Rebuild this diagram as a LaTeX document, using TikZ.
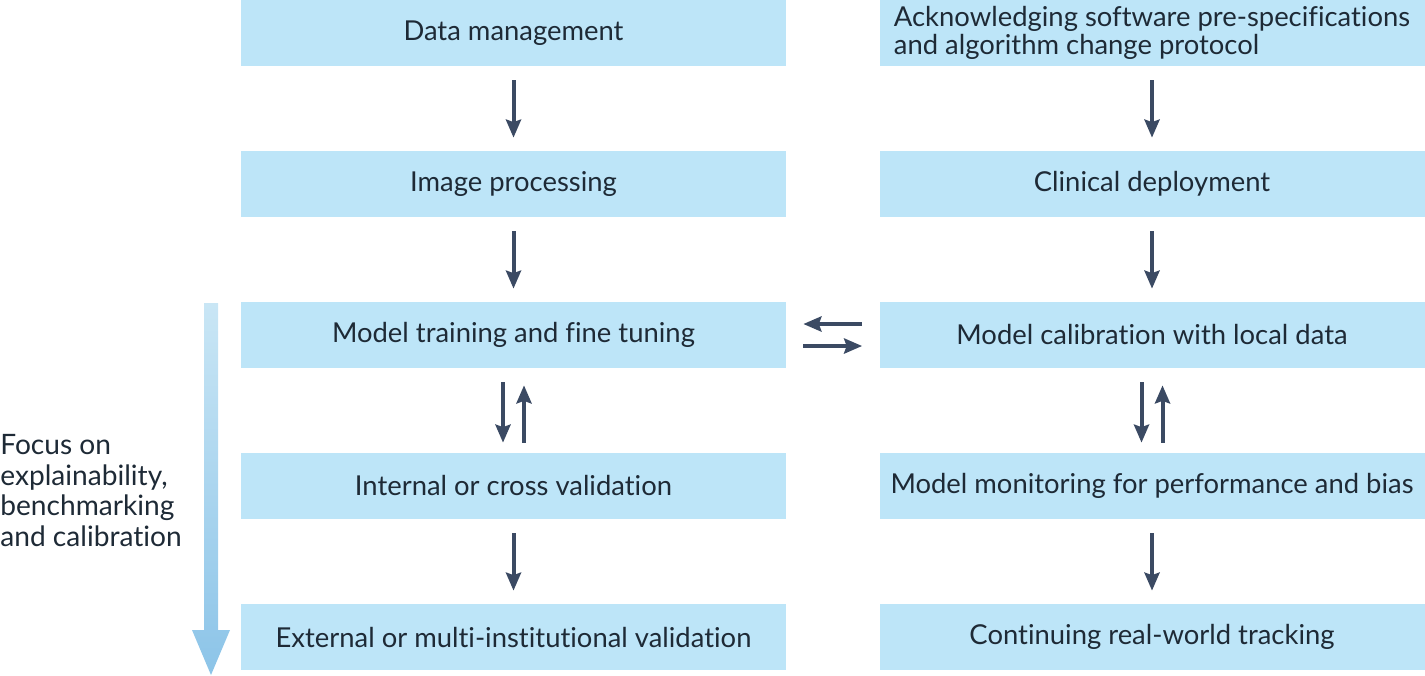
\documentclass[tikz,border=0pt]{standalone}
\usepackage{fontspec}
\setmainfont{Lato}[Ligatures={NoCommon}]
\usepackage{tikz}
\usetikzlibrary{arrows.meta}
\definecolor{boxblue}{HTML}{BDE5F8}
\definecolor{arrowgrey}{HTML}{3B4A63}
\definecolor{inkdark}{HTML}{1E2A36}
\definecolor{fadetop}{HTML}{C9E6F5}
\definecolor{fadebot}{HTML}{8CC4E8}
\tikzstyle{stage}=[rectangle,fill=boxblue,minimum width=10.9cm,minimum height=1.32cm,inner sep=0pt,text=inkdark,font=\fontsize{15.6}{15.6}\selectfont]
\tikzstyle{flow} = [draw=arrowgrey,line width=0.08cm,-{Stealth[length=0.36cm,width=0.3cm,inset=0.05cm]}]

\begin{document}
\begin{tikzpicture}
    \useasboundingbox (0,0) rectangle (28.5,-13.5);
    % Draw the stages of the two columns
    % Left column: development
    \foreach \pos/\name/\txt in {{(10.27,-0.66)}/DM/{Data management}, {(10.27,-3.68)}/IP/{Image processing}, {(10.27,-6.70)}/MT/{Model training and fine tuning}, {(10.27,-9.72)}/IV/{Internal or cross validation}, {(10.27,-12.74)}/EV/{External or multi-institutional validation}}
        \node[stage] (\name) at \pos {\txt};
    % Right column: deployment
    \foreach \pos/\name/\txt in {{(23.04,-3.68)}/CD/{Clinical deployment}, {(23.04,-6.70)}/MC/{Model calibration with local data}, {(23.04,-9.72)}/MM/{Model monitoring for performance and bias}, {(23.04,-12.74)}/RT/{Continuing real-world tracking}}
        \node[stage] (\name) at \pos {\txt};
    \node[stage,align=left] (AS) at (23.04,-0.66) {Acknowledging software pre-specifications\\and algorithm change protocol};

    % Connect stages with arrows
    \foreach \source/ \dest in {DM/IP, IP/MT, IV/EV, AS/CD, CD/MC, MM/RT}
        \path[flow,shorten <=0.28cm,shorten >=0.26cm] (\source) -- (\dest);

    % Back and forth arrows
    \foreach \source/ \dest in {MT/IV, MC/MM} {
        \path[flow,shorten <=0.28cm,shorten >=0.2cm] ([xshift=-0.21cm]\source.south) -- ([xshift=-0.21cm]\dest.north);
        \path[flow,shorten <=0.2cm,shorten >=0.34cm] ([xshift=0.21cm]\dest.north) -- ([xshift=0.21cm]\source.south);
    }
    \path[flow,shorten <=0.34cm,shorten >=0.34cm] ([yshift=0.22cm]MC.west) -- ([yshift=0.22cm]MT.east);
    \path[flow,shorten <=0.34cm,shorten >=0.34cm] ([yshift=-0.22cm]MT.east) -- ([yshift=-0.22cm]MC.west);

    % Focus arrow and its label
    \shade[top color=fadetop,bottom color=fadebot] (4.08,-6.06) -- (4.36,-6.06) -- (4.36,-12.6) -- (4.6,-12.6) -- (4.22,-13.5) -- (3.84,-12.6) -- (4.08,-12.6) -- cycle;
    \node[anchor=west,align=left,text=inkdark,inner sep=0pt,font=\fontsize{16}{17.6}\selectfont] (focus) at (0,-9.81) {Focus on\\explainability,\\benchmarking\\and calibration};
\end{tikzpicture}
\end{document}
